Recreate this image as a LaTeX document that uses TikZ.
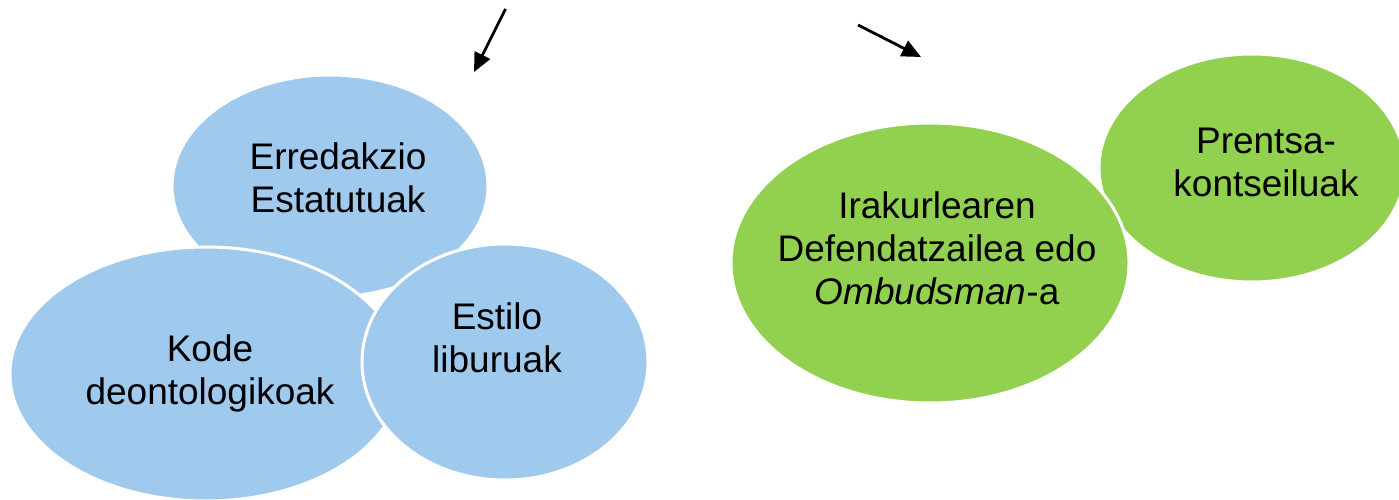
\documentclass[tikz,border=0pt]{standalone}
\usepackage{fontspec}
\setmainfont{Liberation Sans}
\usetikzlibrary{shapes.geometric,arrows.meta}
\definecolor{blob blue}{RGB}{160,201,238}
\definecolor{blob green}{RGB}{146,208,80}
\tikzset{
  blob/.style={ellipse, draw=white, line width=3pt, inner sep=0pt},
  bluebl/.style={blob, fill=blob blue},
  greenbl/.style={blob, fill=blob green},
  txt/.style={align=center, font=\fontsize{37}{43}\selectfont, inner sep=0pt},
  pointer/.style={line width=2.8pt, -{Triangle[length=19pt,width=17pt]}}
}
\begin{document}
\begin{tikzpicture}[x=1pt,y=-1pt]
\useasboundingbox (0,0) rectangle (1399,500);
% blue group
\node[bluebl, minimum width=316pt, minimum height=222pt] (erre) at (330,186) {};
\node[bluebl, minimum width=392pt, minimum height=254pt] (kode) at (206,374) {};
\node[bluebl, minimum width=286pt, minimum height=236pt] (esti) at (505,362) {};
\node[txt] (erret) at (338,178) {Erredakzio\\Estatutuak};
\node[txt] (kodet) at (210,373) {Kode\\deontologikoak};
\node[txt] (estit) at (497,338) {Estilo\\liburuak};
% green group
\node[greenbl, minimum width=306pt, minimum height=228pt] (pren) at (1252,168) {};
\node[greenbl, minimum width=398pt, minimum height=280pt] (irak) at (930,263) {};
\node[txt] (prent) at (1266,162) {Prentsa-\\kontseiluak};
\node[txt] (irakt) at (937,248) {Irakurlearen\\Defendatzailea edo\\\textit{Ombudsman}-a};
% arrows
\coordinate (a1s) at (505.5,9);
\coordinate (a1e) at (474,72);
\coordinate (a2s) at (858,25);
\coordinate (a2e) at (921,57);
\draw[pointer] (a1s) -- (a1e);
\draw[pointer] (a2s) -- (a2e);
\end{tikzpicture}
\end{document}
